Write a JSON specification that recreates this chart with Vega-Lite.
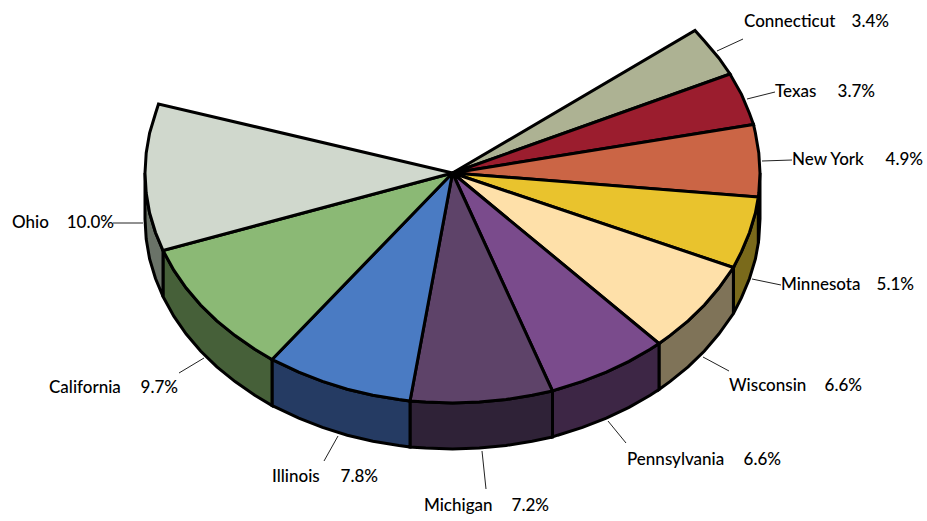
{"$schema":"https://vega.github.io/schema/vega-lite/v6.json","width":927,"height":521,"padding":0,"autosize":{"type":"none"},"background":"white","view":{"stroke":null},
"datasets":{
"sides":[
{"slice":"New York","x":758.3,"y":197,"y2":243},{"slice":"New York","x":758.8,"y":193,"y2":239},{"slice":"New York","x":760,"y":173,"y2":219},
{"slice":"Minnesota","x":733.4,"y":267.5,"y2":313.5},{"slice":"Minnesota","x":741.5,"y":251.7,"y2":297.7},{"slice":"Minnesota","x":749.5,"y":232.5,"y2":278.5},{"slice":"Minnesota","x":755.4,"y":213,"y2":259},{"slice":"Minnesota","x":758.3,"y":197,"y2":243},
{"slice":"Wisconsin","x":659,"y":343.5,"y2":389.5},{"slice":"Wisconsin","x":669.9,"y":335.6,"y2":381.6},{"slice":"Wisconsin","x":688.1,"y":320.9,"y2":366.9},{"slice":"Wisconsin","x":704.4,"y":305,"y2":351},{"slice":"Wisconsin","x":718.8,"y":288,"y2":334},{"slice":"Wisconsin","x":733.4,"y":267.5,"y2":313.5},
{"slice":"Pennsylvania","x":552.5,"y":391,"y2":437},{"slice":"Pennsylvania","x":557.7,"y":389.2,"y2":435.2},{"slice":"Pennsylvania","x":582.5,"y":381.4,"y2":427.4},{"slice":"Pennsylvania","x":606.3,"y":372.2,"y2":418.2},{"slice":"Pennsylvania","x":629,"y":361.4,"y2":407.4},{"slice":"Pennsylvania","x":650.2,"y":349.2,"y2":395.2},{"slice":"Pennsylvania","x":659,"y":343.5,"y2":389.5},
{"slice":"Michigan","x":410,"y":401,"y2":447},{"slice":"Michigan","x":425.7,"y":402.1,"y2":448.1},{"slice":"Michigan","x":452.5,"y":403,"y2":449},{"slice":"Michigan","x":479.3,"y":402.1,"y2":448.1},{"slice":"Michigan","x":506,"y":399.5,"y2":445.5},{"slice":"Michigan","x":532.1,"y":395.2,"y2":441.2},{"slice":"Michigan","x":552.5,"y":391,"y2":437},
{"slice":"Illinois","x":272,"y":359.5,"y2":405.5},{"slice":"Illinois","x":276,"y":361.4,"y2":407.4},{"slice":"Illinois","x":298.8,"y":372.2,"y2":418.2},{"slice":"Illinois","x":322.5,"y":381.4,"y2":427.4},{"slice":"Illinois","x":347.3,"y":389.2,"y2":435.2},{"slice":"Illinois","x":372.9,"y":395.2,"y2":441.2},{"slice":"Illinois","x":399,"y":399.5,"y2":445.5},{"slice":"Illinois","x":410,"y":401,"y2":447},
{"slice":"California","x":163,"y":250.5,"y2":296.5},{"slice":"California","x":173.8,"y":270.2,"y2":316.2},{"slice":"California","x":186.2,"y":288,"y2":334},{"slice":"California","x":200.6,"y":305,"y2":351},{"slice":"California","x":216.9,"y":320.9,"y2":366.9},{"slice":"California","x":235.1,"y":335.6,"y2":381.6},{"slice":"California","x":254.8,"y":349.2,"y2":395.2},{"slice":"California","x":272,"y":359.5,"y2":405.5},
{"slice":"Ohio","x":145,"y":173,"y2":219},{"slice":"Ohio","x":146.2,"y":193,"y2":239},{"slice":"Ohio","x":149.6,"y":213,"y2":259},{"slice":"Ohio","x":155.5,"y":232.5,"y2":278.5},{"slice":"Ohio","x":163,"y":250.5,"y2":296.5}
],
"tops":[
{"slice":"Connecticut","i":0,"x":452.5,"y":173},{"slice":"Connecticut","i":1,"x":695,"y":30.5},{"slice":"Connecticut","i":2,"x":704.4,"y":41},{"slice":"Connecticut","i":3,"x":718.8,"y":58},{"slice":"Connecticut","i":4,"x":730,"y":74},{"slice":"Connecticut","i":5,"x":452.5,"y":173},
{"slice":"Texas","i":0,"x":452.5,"y":173},{"slice":"Texas","i":1,"x":730,"y":74},{"slice":"Texas","i":2,"x":741.5,"y":94.3},{"slice":"Texas","i":3,"x":749.5,"y":113.5},{"slice":"Texas","i":4,"x":753.5,"y":124.5},{"slice":"Texas","i":5,"x":452.5,"y":173},
{"slice":"New York","i":0,"x":452.5,"y":173},{"slice":"New York","i":1,"x":753.5,"y":124.5},{"slice":"New York","i":2,"x":755.4,"y":133},{"slice":"New York","i":3,"x":758.8,"y":153},{"slice":"New York","i":4,"x":760,"y":173},{"slice":"New York","i":5,"x":758.8,"y":193},{"slice":"New York","i":6,"x":758.3,"y":197},{"slice":"New York","i":7,"x":452.5,"y":173},
{"slice":"Minnesota","i":0,"x":452.5,"y":173},{"slice":"Minnesota","i":1,"x":758.3,"y":197},{"slice":"Minnesota","i":2,"x":755.4,"y":213},{"slice":"Minnesota","i":3,"x":749.5,"y":232.5},{"slice":"Minnesota","i":4,"x":741.5,"y":251.7},{"slice":"Minnesota","i":5,"x":733.4,"y":267.5},{"slice":"Minnesota","i":6,"x":452.5,"y":173},
{"slice":"Wisconsin","i":0,"x":452.5,"y":173},{"slice":"Wisconsin","i":1,"x":733.4,"y":267.5},{"slice":"Wisconsin","i":2,"x":718.8,"y":288},{"slice":"Wisconsin","i":3,"x":704.4,"y":305},{"slice":"Wisconsin","i":4,"x":688.1,"y":320.9},{"slice":"Wisconsin","i":5,"x":669.9,"y":335.6},{"slice":"Wisconsin","i":6,"x":659,"y":343.5},{"slice":"Wisconsin","i":7,"x":452.5,"y":173},
{"slice":"Pennsylvania","i":0,"x":452.5,"y":173},{"slice":"Pennsylvania","i":1,"x":659,"y":343.5},{"slice":"Pennsylvania","i":2,"x":650.2,"y":349.2},{"slice":"Pennsylvania","i":3,"x":629,"y":361.4},{"slice":"Pennsylvania","i":4,"x":606.3,"y":372.2},{"slice":"Pennsylvania","i":5,"x":582.5,"y":381.4},{"slice":"Pennsylvania","i":6,"x":557.7,"y":389.2},{"slice":"Pennsylvania","i":7,"x":552.5,"y":391},{"slice":"Pennsylvania","i":8,"x":452.5,"y":173},
{"slice":"Michigan","i":0,"x":452.5,"y":173},{"slice":"Michigan","i":1,"x":552.5,"y":391},{"slice":"Michigan","i":2,"x":532.1,"y":395.2},{"slice":"Michigan","i":3,"x":506,"y":399.5},{"slice":"Michigan","i":4,"x":479.3,"y":402.1},{"slice":"Michigan","i":5,"x":452.5,"y":403},{"slice":"Michigan","i":6,"x":425.7,"y":402.1},{"slice":"Michigan","i":7,"x":410,"y":401},{"slice":"Michigan","i":8,"x":452.5,"y":173},
{"slice":"Illinois","i":0,"x":452.5,"y":173},{"slice":"Illinois","i":1,"x":410,"y":401},{"slice":"Illinois","i":2,"x":399,"y":399.5},{"slice":"Illinois","i":3,"x":372.9,"y":395.2},{"slice":"Illinois","i":4,"x":347.3,"y":389.2},{"slice":"Illinois","i":5,"x":322.5,"y":381.4},{"slice":"Illinois","i":6,"x":298.8,"y":372.2},{"slice":"Illinois","i":7,"x":276,"y":361.4},{"slice":"Illinois","i":8,"x":272,"y":359.5},{"slice":"Illinois","i":9,"x":452.5,"y":173},
{"slice":"California","i":0,"x":452.5,"y":173},{"slice":"California","i":1,"x":272,"y":359.5},{"slice":"California","i":2,"x":254.8,"y":349.2},{"slice":"California","i":3,"x":235.1,"y":335.6},{"slice":"California","i":4,"x":216.9,"y":320.9},{"slice":"California","i":5,"x":200.6,"y":305},{"slice":"California","i":6,"x":186.2,"y":288},{"slice":"California","i":7,"x":173.8,"y":270.2},{"slice":"California","i":8,"x":163,"y":250.5},{"slice":"California","i":9,"x":452.5,"y":173},
{"slice":"Ohio","i":0,"x":452.5,"y":173},{"slice":"Ohio","i":1,"x":163,"y":250.5},{"slice":"Ohio","i":2,"x":155.5,"y":232.5},{"slice":"Ohio","i":3,"x":149.6,"y":213},{"slice":"Ohio","i":4,"x":146.2,"y":193},{"slice":"Ohio","i":5,"x":145,"y":173},{"slice":"Ohio","i":6,"x":146.2,"y":153},{"slice":"Ohio","i":7,"x":149.6,"y":133},{"slice":"Ohio","i":8,"x":155.5,"y":113.5},{"slice":"Ohio","i":9,"x":158.5,"y":104},{"slice":"Ohio","i":10,"x":452.5,"y":173}
],
"labels":[
{"slice":"Connecticut","name":"Connecticut","pct":"3.4%","tx":744,"tr":889,"ty":22,"x":717,"y":51,"x2":743,"y2":39},
{"slice":"Texas","name":"Texas","pct":"3.7%","tx":775,"tr":875,"ty":92,"x":747,"y":99,"x2":775,"y2":92},
{"slice":"New York","name":"New York","pct":"4.9%","tx":792,"tr":923,"ty":160,"x":762,"y":161,"x2":792,"y2":160},
{"slice":"Minnesota","name":"Minnesota","pct":"5.1%","tx":781,"tr":914,"ty":285,"x":752,"y":279,"x2":781,"y2":285},
{"slice":"Wisconsin","name":"Wisconsin","pct":"6.6%","tx":729,"tr":862,"ty":386,"x":703,"y":357,"x2":729,"y2":371},
{"slice":"Pennsylvania","name":"Pennsylvania","pct":"6.6%","tx":627,"tr":781,"ty":460,"x":608,"y":421,"x2":626,"y2":443},
{"slice":"Michigan","name":"Michigan","pct":"7.2%","tx":424,"tr":549,"ty":506,"x":482,"y":451,"x2":486,"y2":489},
{"slice":"Illinois","name":"Illinois","pct":"7.8%","tx":272,"tr":378,"ty":477,"x":338,"y":436,"x2":324,"y2":461},
{"slice":"California","name":"California","pct":"9.7%","tx":49,"tr":178,"ty":388,"x":204,"y":358,"x2":179,"y2":373},
{"slice":"Ohio","name":"Ohio","pct":"10.0%","tx":12,"tr":114,"ty":223,"x":143,"y":223,"x2":113,"y2":223}
]},
"layer":[
{"data":{"name":"labels"},"mark":{"type":"rule","stroke":"#222222","strokeWidth":1},"encoding":{"x":{"field":"x","type":"quantitative","scale":{"domain":[0,927],"nice":false,"zero":false},"axis":null},"y":{"field":"y","type":"quantitative","scale":{"domain":[521,0],"nice":false,"zero":false},"axis":null},"x2":{"field":"x2"},"y2":{"field":"y2"}}},
{"data":{"name":"sides"},"mark":{"type":"area","stroke":"#000000","strokeWidth":3,"strokeJoin":"miter"},"encoding":{"x":{"field":"x","type":"quantitative","axis":null},"y":{"field":"y","type":"quantitative","axis":null},"y2":{"field":"y2"},"detail":{"field":"slice"},"fill":{"field":"slice","type":"nominal","legend":null,"scale":{"domain":["New York","Minnesota","Wisconsin","Pennsylvania","Michigan","Illinois","California","Ohio"],"range":["#66321f","#7a6a1b","#7f7358","#3d2645","#2f2237","#253b63","#466039","#6a7368"]}}}},
{"data":{"name":"tops"},"mark":{"type":"line","filled":true,"stroke":"#000000","strokeWidth":3,"strokeJoin":"miter"},"encoding":{"x":{"field":"x","type":"quantitative","axis":null},"y":{"field":"y","type":"quantitative","axis":null},"order":{"field":"i","type":"ordinal"},"detail":{"field":"slice"},"fill":{"field":"slice","type":"nominal","legend":null,"scale":{"domain":["Connecticut","Texas","New York","Minnesota","Wisconsin","Pennsylvania","Michigan","Illinois","California","Ohio"],"range":["#adb293","#9b1d2e","#cb6545","#e9c32d","#fee0a9","#7a4b8c","#5e4369","#4a7bc3","#8bb975","#d0d8cd"]}}}},
{"data":{"name":"labels"},"mark":{"type":"text","align":"left","baseline":"middle","font":"Lato","fontSize":17,"fontWeight":500,"fill":"#000000"},"encoding":{"x":{"field":"tx","type":"quantitative","axis":null},"y":{"field":"ty","type":"quantitative","axis":null},"text":{"field":"name"}}},
{"data":{"name":"labels"},"mark":{"type":"text","align":"right","baseline":"middle","font":"Lato","fontSize":17,"fontWeight":500,"fill":"#000000"},"encoding":{"x":{"field":"tr","type":"quantitative","axis":null},"y":{"field":"ty","type":"quantitative","axis":null},"text":{"field":"pct"}}}
],
"resolve":{"scale":{"fill":"independent"}}}
